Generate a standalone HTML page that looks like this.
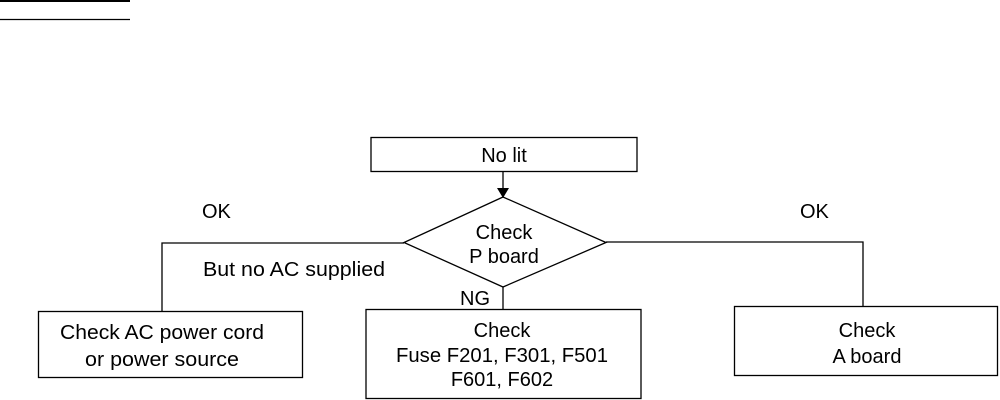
<!DOCTYPE html>
<html><head><style>html,body{margin:0;padding:0;background:#fff;width:1000px;height:400px;overflow:hidden}</style></head>
<body>
<svg width="1000" height="400" xmlns="http://www.w3.org/2000/svg" font-family="Liberation Sans, Arial, sans-serif" font-size="20" fill="#000">
<line x1="0" y1="1" x2="130" y2="1" stroke="#000" stroke-width="2"/>
<line x1="0" y1="19.5" x2="130" y2="19.5" stroke="#000" stroke-width="1.2"/>
<g fill="none" stroke="#000" stroke-width="1.3">
<rect x="371" y="137.5" width="266" height="34"/>
<line x1="503" y1="171" x2="503" y2="190"/>
<polygon points="503,197 606,242.5 503,287 404,242.5"/>
<polyline points="404,243 162,243 162,311"/>
<polyline points="606,242 863,242 863,307"/>
<line x1="503" y1="287" x2="503" y2="310"/>
<rect x="38.5" y="311.5" width="264" height="66"/>
<rect x="366" y="309.5" width="275" height="89"/>
<rect x="734.5" y="306.5" width="263" height="69"/>
</g>
<polygon points="497,188 509,188 503,198" fill="#000"/>
<g text-anchor="middle">
<text x="504" y="162">No lit</text>
<text x="504" y="239">Check</text>
<text x="504" y="263">P board</text>
<text x="162" y="339" textLength="204" lengthAdjust="spacingAndGlyphs">Check AC power cord</text>
<text x="162" y="366" textLength="154" lengthAdjust="spacingAndGlyphs">or power source</text>
<text x="502" y="337">Check</text>
<text x="502" y="362" textLength="212" lengthAdjust="spacingAndGlyphs">Fuse F201, F301, F501</text>
<text x="502" y="386">F601, F602</text>
<text x="867" y="337">Check</text>
<text x="867" y="363">A board</text>
</g>
<text x="202" y="218">OK</text>
<text x="800" y="218">OK</text>
<text x="203" y="276" textLength="182" lengthAdjust="spacingAndGlyphs">But no AC supplied</text>
<text x="460" y="305">NG</text>
</svg>
</body></html>
